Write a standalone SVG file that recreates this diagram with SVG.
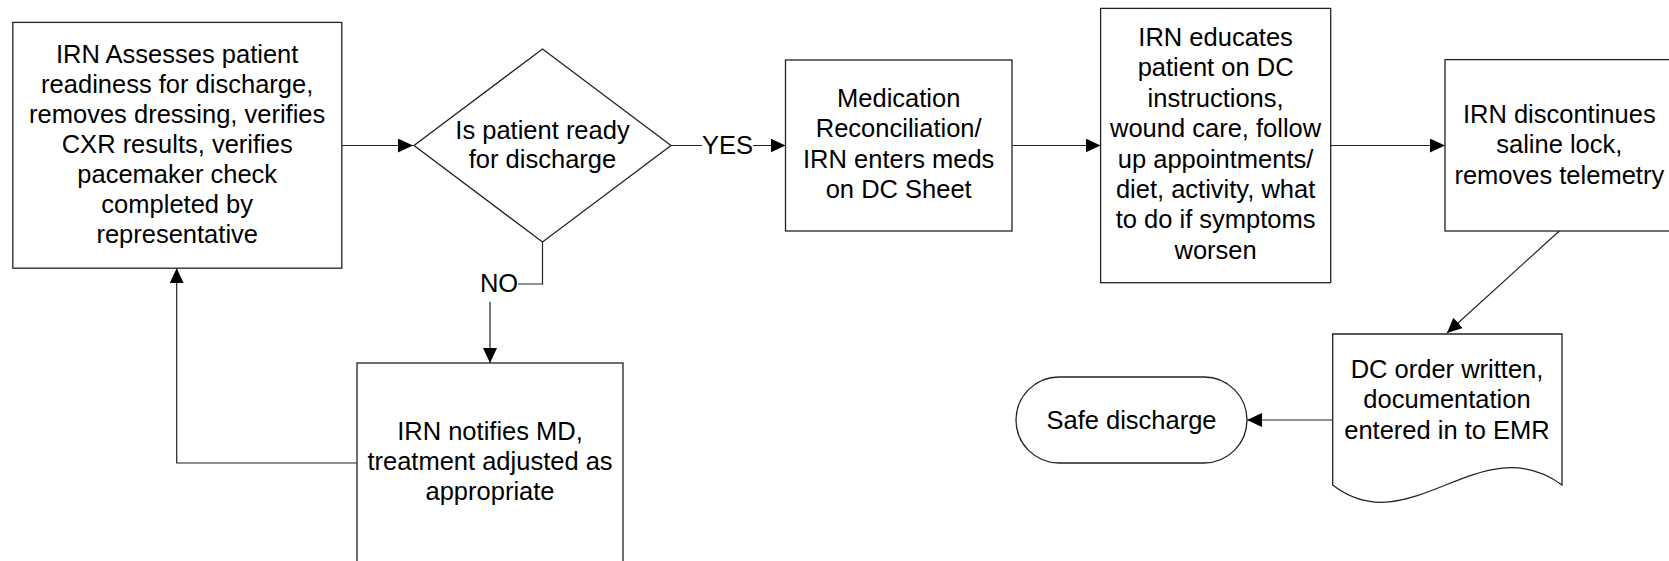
<svg xmlns="http://www.w3.org/2000/svg" width="1669" height="561" viewBox="0 0 1669 561">
<defs>
<style>
.n{fill:#fff;stroke:#222;stroke-width:1.3}
.t{font-family:"Liberation Sans",Arial,sans-serif;font-size:25.5px;fill:#000;text-anchor:middle}
.c{fill:none;stroke:#222;stroke-width:1.2}
</style>
<marker id="ah" markerUnits="userSpaceOnUse" markerWidth="16" markerHeight="14" refX="15" refY="7" orient="auto">
<path d="M0,0 L15,7 L0,14 z" fill="#000"/>
</marker>
</defs>
<rect width="1669" height="561" fill="#fff"/>
<g id="connectors">
<path class="c" d="M341.7,145.5 H413" marker-end="url(#ah)"/>
<path class="c" d="M671,145.5 H702 M753,145.5 H785.5" marker-end="url(#ah)"/>
<path class="c" d="M542.5,242 V284 H518"/>
<path class="c" d="M490,301.7 V363" marker-end="url(#ah)"/>
<path class="c" d="M357,463 H176.7 V268.2" marker-end="url(#ah)"/>
<path class="c" d="M1012,145.5 H1100.6" marker-end="url(#ah)"/>
<path class="c" d="M1330.7,145.5 H1445" marker-end="url(#ah)"/>
<path class="c" d="M1559.3,231 L1447,333" marker-end="url(#ah)"/>
<path class="c" d="M1332.7,420 H1247" marker-end="url(#ah)"/>
<text class="t" x="727.5" y="154">YES</text>
<text class="t" x="499" y="292">NO</text>
</g>
<g id="assess">
<rect class="n" x="12.8" y="22.4" width="329" height="245.8"/>
<text class="t"><tspan x="177.2" y="62.5">IRN Assesses patient</tspan><tspan x="177.2" y="92.5">readiness for discharge,</tspan><tspan x="177.2" y="122.5">removes dressing, verifies</tspan><tspan x="177.2" y="152.5">CXR results, verifies</tspan><tspan x="177.2" y="182.5">pacemaker check</tspan><tspan x="177.2" y="212.5">completed by</tspan><tspan x="177.2" y="242.5">representative</tspan></text>
</g>
<g id="decision">
<path class="n" d="M542.5,49 L671,145.5 L542.5,242 L414,145.5 Z"/>
<text class="t"><tspan x="542.5" y="138.5">Is patient ready</tspan><tspan x="542.5" y="167.5">for discharge</tspan></text>
</g>
<g id="medrec">
<rect class="n" x="785.5" y="60" width="226.5" height="171"/>
<text class="t"><tspan x="898.7" y="107">Medication</tspan><tspan x="898.7" y="137.3">Reconciliation/</tspan><tspan x="898.7" y="167.6">IRN enters meds</tspan><tspan x="898.7" y="197.9">on DC Sheet</tspan></text>
</g>
<g id="educate">
<rect class="n" x="1100.6" y="8.4" width="230.1" height="274.3"/>
<text class="t"><tspan x="1215.6" y="46">IRN educates</tspan><tspan x="1215.6" y="76.4">patient on DC</tspan><tspan x="1215.6" y="106.8">instructions,</tspan><tspan x="1215.6" y="137.2">wound care, follow</tspan><tspan x="1215.6" y="167.6">up appointments/</tspan><tspan x="1215.6" y="198">diet, activity, what</tspan><tspan x="1215.6" y="228.4">to do if symptoms</tspan><tspan x="1215.6" y="258.8">worsen</tspan></text>
</g>
<g id="discontinue">
<rect class="n" x="1445" y="59.6" width="228" height="171.4"/>
<text class="t"><tspan x="1559.3" y="123">IRN discontinues</tspan><tspan x="1559.3" y="153.4">saline lock,</tspan><tspan x="1559.3" y="183.8">removes telemetry</tspan></text>
</g>
<g id="document">
<path class="n" d="M1332.7,334 H1562 V485 C1480,425 1410,545 1332.7,485 Z"/>
<text class="t"><tspan x="1447" y="378">DC order written,</tspan><tspan x="1447" y="408.3">documentation</tspan><tspan x="1447" y="438.6">entered in to EMR</tspan></text>
</g>
<g id="safe">
<rect class="n" x="1016" y="377" width="231" height="86" rx="43" ry="43"/>
<text class="t" x="1131.5" y="428.5">Safe discharge</text>
</g>
<g id="notify">
<rect class="n" x="357" y="363" width="266" height="200"/>
<text class="t"><tspan x="490" y="440">IRN notifies MD,</tspan><tspan x="490" y="470">treatment adjusted as</tspan><tspan x="490" y="500">appropriate</tspan></text>
</g>
</svg>
